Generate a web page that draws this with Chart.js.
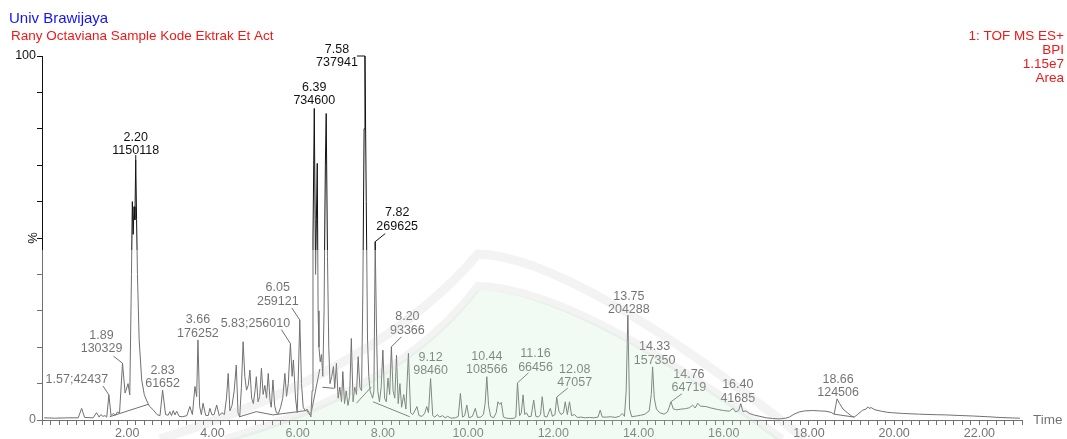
<!DOCTYPE html>
<html>
<head>
<meta charset="utf-8">
<script src="https://cdn.jsdelivr.net/npm/chart.js@4/dist/chart.umd.min.js"></script>
<style>
  html, body { margin: 0; padding: 0; background: #ffffff; }
  canvas { display: block; }
</style>
</head>
<body>
<canvas id="chrom" width="1067" height="439"></canvas>
<script>
// ---- header text ----
const labName = 'Univ Brawijaya';
const sampleName = 'Rany Octaviana Sample Kode Ektrak Et Act';
const instrumentLines = ['1: TOF MS ES+', 'BPI', '1.15e7', 'Area'];
const xAxisName = 'Time';
const yAxisName = '%';
const xTickLabels = ['2.00', '4.00', '6.00', '8.00', '10.00', '12.00', '14.00', '16.00', '18.00', '20.00', '22.00'];
const yTickLabels = ['0', '100'];

// ---- BPI trace: retention time (min) and relative intensity (%) ----
const times = [
  0.05, 0.30, 0.60, 0.85, 0.93, 1.00, 1.20, 1.28, 1.34, 1.38, 1.43, 1.48, 1.52, 1.57, 1.62, 1.67, 1.72, 1.77, 1.82,
  1.89, 1.95, 2.02, 2.06, 2.10, 2.12, 2.14, 2.16, 2.18, 2.20, 2.22, 2.24, 2.28, 2.34, 2.40, 2.45, 2.52, 2.61, 2.70,
  2.77, 2.83, 2.90, 2.96, 3.00, 3.04, 3.08, 3.12, 3.16, 3.22, 3.30, 3.40, 3.47, 3.53, 3.59, 3.63, 3.66, 3.70, 3.74,
  3.78, 3.84, 3.90, 3.94, 3.99, 4.04, 4.10, 4.16, 4.22, 4.28, 4.33, 4.37, 4.41, 4.46, 4.51, 4.56, 4.60, 4.64, 4.68,
  4.72, 4.76, 4.80, 4.84, 4.88, 4.92, 4.96, 5.00, 5.03, 5.07, 5.11, 5.15, 5.19, 5.23, 5.27, 5.31, 5.35, 5.38, 5.42,
  5.46, 5.50, 5.55, 5.60, 5.65, 5.70, 5.74, 5.78, 5.83, 5.87, 5.90, 5.95, 5.99, 6.02, 6.05, 6.09, 6.13, 6.18, 6.22,
  6.27, 6.31, 6.34, 6.36, 6.39, 6.42, 6.44, 6.46, 6.48, 6.50, 6.53, 6.56, 6.59, 6.62, 6.65, 6.67, 6.70, 6.73, 6.76,
  6.80, 6.84, 6.87, 6.91, 6.95, 6.99, 7.03, 7.06, 7.10, 7.14, 7.18, 7.22, 7.26, 7.30, 7.34, 7.38, 7.42, 7.46, 7.50,
  7.53, 7.56, 7.58, 7.61, 7.64, 7.67, 7.70, 7.73, 7.76, 7.79, 7.82, 7.85, 7.88, 7.92, 7.96, 8.00, 8.04, 8.08, 8.12,
  8.16, 8.20, 8.24, 8.28, 8.32, 8.36, 8.40, 8.44, 8.49, 8.54, 8.60, 8.65, 8.70, 8.75, 8.80, 8.85, 8.92, 8.98, 9.03,
  9.07, 9.12, 9.17, 9.22, 9.28, 9.33, 9.40, 9.46, 9.52, 9.60, 9.70, 9.77, 9.82, 9.87, 9.92, 9.97, 10.02, 10.10, 10.17,
  10.22, 10.30, 10.36, 10.40, 10.44, 10.48, 10.53, 10.60, 10.66, 10.70, 10.74, 10.78, 10.83, 10.90, 11.00, 11.08,
  11.12, 11.16, 11.21, 11.25, 11.29, 11.33, 11.37, 11.42, 11.48, 11.54, 11.59, 11.65, 11.70, 11.74, 11.79, 11.85,
  11.93, 11.98, 12.04, 12.08, 12.13, 12.18, 12.24, 12.28, 12.33, 12.38, 12.43, 12.50, 12.56, 12.65, 12.75, 12.85,
  12.95, 13.05, 13.10, 13.15, 13.25, 13.35, 13.45, 13.55, 13.62, 13.67, 13.71, 13.75, 13.79, 13.84, 13.95, 14.05,
  14.15, 14.25, 14.30, 14.33, 14.37, 14.42, 14.50, 14.60, 14.68, 14.72, 14.76, 14.82, 14.90, 15.00, 15.10, 15.20,
  15.27, 15.33, 15.39, 15.45, 15.58, 15.70, 15.85, 16.00, 16.13, 16.22, 16.28, 16.35, 16.40, 16.45, 16.52, 16.60,
  16.70, 16.85, 17.00, 17.15, 17.30, 17.45, 17.54, 17.65, 17.77, 17.90, 18.08, 18.25, 18.40, 18.52, 18.59, 18.63,
  18.66, 18.72, 18.80, 18.90, 19.00, 19.06, 19.14, 19.26, 19.34, 19.38, 19.41, 19.46, 19.55, 19.70, 19.85, 19.96,
  20.20, 20.59, 21.00, 21.21, 21.50, 21.84, 22.20, 22.46, 22.80, 22.95
];
const intensity = [
  0.6, 0.5, 0.6, 0.6, 3.2, 0.7, 0.6, 2.0, 0.8, 1.5, 1.0, 1.2, 0.8, 6.9, 1.2, 1.8, 1.3, 2.2, 2.0,
  15.6, 7.4, 10.0, 6.9, 40.0, 60.0, 51.0, 58.6, 55.0, 71.4, 55.0, 40.0, 22.0, 11.0, 7.0, 5.5, 3.8, 2.8, 1.5,
  1.2, 8.2, 1.5, 1.3, 2.3, 1.2, 2.6, 1.4, 2.4, 1.0, 0.9, 1.2, 3.7, 1.5, 9.2, 6.4, 22.0, 3.7, 1.5,
  4.6, 1.3, 1.2, 3.2, 1.4, 1.5, 4.1, 1.2, 2.0, 1.5, 6.0, 12.8, 2.5, 4.0, 8.0, 15.1, 2.0, 0.8, 9.0,
  21.5, 12.0, 8.2, 9.5, 13.7, 6.0, 4.5, 8.0, 11.9, 5.0, 6.5, 14.2, 7.0, 9.5, 6.0, 12.8, 5.5, 3.5, 11.0,
  4.0, 2.0, 1.8, 3.5, 6.0, 12.8, 6.5, 10.0, 21.0, 12.0, 16.5, 6.0, 2.0, 14.0, 27.5, 10.0, 3.5, 2.5, 3.0,
  2.0, 1.0, 8.0, 50.0, 85.6, 40.0, 55.0, 70.5, 30.0, 20.0, 16.0, 18.0, 12.0, 30.0, 70.0, 84.2, 45.0, 20.0, 10.0,
  12.0, 14.7, 8.7, 15.6, 6.0, 9.0, 5.0, 13.3, 4.5, 8.0, 4.0, 6.5, 22.4, 5.0, 9.0, 7.0, 17.4, 9.0, 8.0,
  35.0, 80.0, 100.0, 60.0, 22.0, 12.0, 8.0, 7.0, 6.0, 8.0, 49.0, 25.0, 8.0, 5.0, 9.0, 19.2, 6.0, 5.0, 11.5,
  7.0, 20.1, 8.0, 6.0, 17.8, 4.5, 10.0, 3.5, 7.0, 3.0, 18.3, 2.0, 1.5, 2.5, 3.7, 1.2, 1.0, 1.8, 3.7,
  2.0, 11.4, 1.2, 0.8, 1.5, 0.8, 1.2, 0.6, 1.0, 0.5, 0.6, 1.0, 7.3, 0.8, 1.2, 4.1, 0.6, 1.0, 3.2,
  0.7, 0.8, 1.5, 4.5, 11.9, 4.0, 1.0, 0.6, 2.0, 5.0, 4.3, 4.8, 0.8, 0.5, 0.4, 0.5,
  0.8, 10.2, 1.2, 2.0, 6.9, 1.5, 2.0, 0.9, 1.0, 5.5, 1.0, 0.8, 1.5, 6.4, 1.0, 0.8,
  3.2, 1.0, 1.5, 6.3, 2.5, 1.5, 2.0, 5.0, 1.5, 5.0, 1.2, 1.5, 0.7, 0.8, 0.6, 0.7,
  0.6, 0.8, 2.7, 0.8, 0.8, 0.9, 0.7, 1.0, 1.8, 1.0, 8.0, 28.8, 3.0, 0.9, 1.1, 1.3,
  1.6, 2.5, 7.0, 14.6, 6.0, 3.0, 2.0, 1.6, 2.2, 3.5, 5.0, 3.0, 2.8, 3.0, 3.1, 3.4,
  4.1, 3.3, 4.6, 3.8, 3.7, 3.3, 2.9, 2.6, 2.4, 3.2, 2.2, 2.6, 4.5, 2.3, 2.5, 1.8,
  1.4, 1.0, 0.6, 0.4, 0.3, 0.5, 0.8, 1.6, 2.2, 2.5, 2.6, 2.5, 2.4, 2.1, 1.6, 4.0,
  5.8, 4.5, 3.0, 2.0, 1.1, 0.8, 1.5, 2.7, 3.0, 3.6, 3.2, 3.4, 2.8, 2.4, 2.1, 2.0,
  1.8, 1.6, 1.45, 1.4, 1.25, 1.1, 0.9, 0.7, 0.55, 0.5
];

// ---- integration baselines (null level = break between segments) ----
const baseTimes  = [1.59, 2.49, 2.49, 4.64, 5.03, 5.42, 6.21, 6.32, 6.32, 6.30, 6.52, 6.52, 6.58, 6.85, 6.85, 7.38, 7.73, 7.73, 7.77, 8.63, 8.63, 18.59, 19.06];
const baseLevels = [0.9, 4.3, null, 0.9, 2.3, 1.4, 2.6, 0.9, null, 0.9, 14.0, null, 9.0, 8.7, null, 4.6, 9.1, null, 5.0, 0.9, null, 1.6, 0.8];

// ---- annotated peaks: retention time and area ----
const peakTimes = [1.57, 1.89, 2.20, 2.83, 3.66, 5.83, 6.05, 6.39, 7.58, 7.82, 8.20, 9.12, 10.44, 11.16, 12.08, 13.75, 14.33, 14.76, 16.40, 18.66];
const peakAreas = [42437, 130329, 1150118, 61652, 176252, 256010, 259121, 734600, 737941, 269625, 93366, 98460, 108566, 66456, 47057, 204288, 157350, 64719, 41685, 124506];

// label placement relative to the apex (px): text offset, one- or two-line, leader start
const labelLayout = [
  { dx: -32, dy: -15, single: true,  lead: [-6, -9] },
  { dx: -21, dy: -28, single: false, lead: [-9, -7] },
  { dx: 0,   dy: -23, single: false, lead: [0, -5] },
  { dx: 0,   dy: -20, single: false, lead: null },
  { dx: 0,   dy: -20, single: false, lead: null },
  { dx: -35, dy: -20, single: true,  lead: [-9, -14] },
  { dx: -22, dy: -32, single: false, lead: [-8, -12] },
  { dx: 0,   dy: -21, single: false, lead: null },
  { dx: -28, dy: -6.5, single: false, lead: [-8, 0] },
  { dx: 22,  dy: -29, single: false, lead: [10, -8] },
  { dx: 16,  dy: -30, single: false, lead: [10, -10] },
  { dx: 0,   dy: -21, single: false, lead: null },
  { dx: 0,   dy: -20.5, single: false, lead: null },
  { dx: 18,  dy: -29, single: false, lead: [11, -10] },
  { dx: 18,  dy: -28, single: false, lead: [11, -9] },
  { dx: 1,   dy: -19, single: false, lead: null },
  { dx: 2,   dy: -20, single: false, lead: null },
  { dx: 18,  dy: -27.5, single: false, lead: [11, -8] },
  { dx: -3,  dy: -19, single: false, lead: null },
  { dx: 1,   dy: -19.5, single: false, lead: null }
];

const FONT = '"Liberation Sans", Arial, Helvetica, sans-serif';
const INK = '#111111';

const traceData = times.map((t, i) => ({ x: t, y: intensity[i] }));
const baseData = baseTimes.map((t, i) => ({ x: t, y: baseLevels[i] }));

function apexLevel(t) {
  let best = 0;
  times.forEach((tt, i) => { if (Math.abs(tt - t) < 0.005 && intensity[i] > best) best = intensity[i]; });
  return best;
}

// header, peak annotations and axis captions
const annotations = {
  id: 'annotations',
  afterDatasetsDraw(chart) {
    const ctx = chart.ctx;
    const xs = chart.scales.x, ys = chart.scales.y;
    ctx.save();
    ctx.textBaseline = 'alphabetic';
    ctx.textAlign = 'left';
    ctx.fillStyle = '#1515f0';
    ctx.font = '15px ' + FONT;
    ctx.fillText(labName, 9, 23);
    ctx.fillStyle = '#f01818';
    ctx.font = '13.5px ' + FONT;
    ctx.fillText(sampleName, 11, 39.5);
    ctx.textAlign = 'right';
    instrumentLines.forEach((s, i) => ctx.fillText(s, 1064, 39.5 + i * 14.3));

    // peak labels
    ctx.font = '12.5px ' + FONT;
    ctx.textAlign = 'center';
    ctx.textBaseline = 'middle';
    ctx.fillStyle = INK;
    ctx.strokeStyle = INK;
    ctx.lineWidth = 1;
    peakTimes.forEach((t, i) => {
      const lay = labelLayout[i];
      const px = xs.getPixelForValue(t);
      const py = ys.getPixelForValue(apexLevel(t));
      const cx = px + lay.dx, cy = py + lay.dy;
      if (lay.single) {
        ctx.fillText(t.toFixed(2) + ';' + peakAreas[i], cx, cy);
      } else {
        ctx.fillText(t.toFixed(2), cx, cy);
        ctx.fillText(String(peakAreas[i]), cx, cy + 13.5);
      }
      if (lay.lead) {
        ctx.beginPath();
        ctx.moveTo(px + lay.lead[0], py + lay.lead[1]);
        ctx.lineTo(px, py);
        ctx.stroke();
      }
    });

    // axis captions
    ctx.font = '13.5px ' + FONT;
    ctx.textAlign = 'left';
    ctx.fillText(xAxisName, xs.right + 11, xs.top);
    ctx.save();
    ctx.translate(ys.left + 33, (ys.top + ys.bottom) / 2);
    ctx.rotate(-Math.PI / 2);
    ctx.textAlign = 'center';
    ctx.font = '13px ' + FONT;
    ctx.fillText(yAxisName, 0, 0);
    ctx.restore();
    ctx.restore();
  }
};

// pale institutional watermark over the lower part of the page
const watermark = {
  id: 'watermark',
  afterDraw(chart) {
    const ctx = chart.ctx;
    const W = chart.width, H = chart.height;
    ctx.save();
    ctx.fillStyle = 'rgba(255,255,255,0.40)';
    ctx.fillRect(0, 250, W, H - 250);

    // inner tinted field
    ctx.beginPath();
    ctx.moveTo(230, H);
    ctx.quadraticCurveTo(400, 390, 478, 290);
    ctx.quadraticCurveTo(575, 290, 780, H);
    ctx.closePath();
    ctx.fillStyle = 'rgba(190,228,202,0.20)';
    ctx.fill();

    // two grey chevron bands
    ctx.strokeStyle = 'rgba(185,185,185,0.17)';
    ctx.lineWidth = 9;
    ctx.beginPath();
    ctx.moveTo(160, H);
    ctx.quadraticCurveTo(380, 370, 478, 254);
    ctx.quadraticCurveTo(575, 257, 805, H);
    ctx.stroke();
    ctx.lineWidth = 8;
    ctx.beginPath();
    ctx.moveTo(225, H);
    ctx.quadraticCurveTo(400, 390, 478, 286);
    ctx.quadraticCurveTo(575, 288, 782, H);
    ctx.stroke();
    ctx.restore();
  }
};

new Chart(document.getElementById('chrom'), {
  type: 'line',
  data: {
    datasets: [
      { data: traceData, borderColor: INK, borderWidth: 1, pointRadius: 0, tension: 0, fill: false },
      { data: baseData, borderColor: INK, borderWidth: 1, pointRadius: 0, tension: 0, fill: false, spanGaps: false }
    ]
  },
  options: {
    responsive: false,
    animation: false,
    devicePixelRatio: 1,
    parsing: true,
    layout: { padding: { left: 0, top: 56, right: 45, bottom: 0 } },
    plugins: { legend: { display: false }, tooltip: { enabled: false }, title: { display: false } },
    scales: {
      x: {
        type: 'linear', min: 0, max: 23,
        afterFit(scale) { scale.height = 19; },
        border: { color: INK, width: 1 },
        grid: { drawOnChartArea: false, tickLength: 5, color: INK },
        ticks: {
          stepSize: 0.2, autoSkip: false, maxRotation: 0, maxTicksLimit: 1000, padding: 1,
          color: INK, font: { family: FONT, size: 12.5 },
          callback(v) { const s = (Math.round(v * 100) / 100).toFixed(2); return xTickLabels.includes(s) ? s : ''; }
        }
      },
      y: {
        type: 'linear', min: 0, max: 100,
        afterFit(scale) { scale.width = 42; },
        border: { color: INK, width: 1 },
        grid: { drawOnChartArea: false, tickLength: 5, color: INK },
        ticks: {
          stepSize: 10, autoSkip: false, padding: 1,
          color: INK, font: { family: FONT, size: 12.5 },
          callback(v) { const s = String(Math.round(v)); return yTickLabels.includes(s) ? s : ''; }
        }
      }
    }
  },
  plugins: [annotations, watermark]
});
</script>
</body>
</html>
